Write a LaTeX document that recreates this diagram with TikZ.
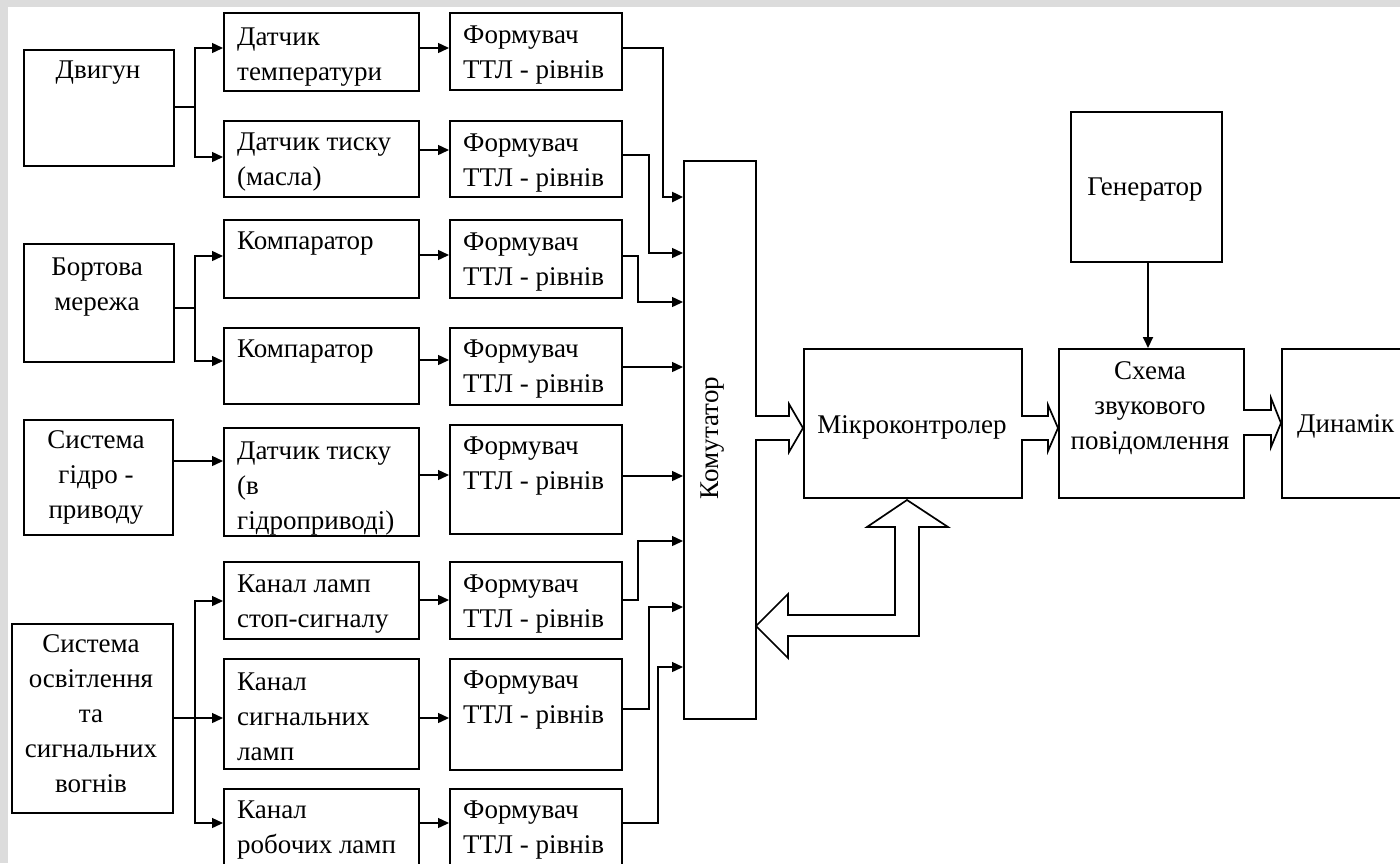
\documentclass[tikz,border=0pt]{standalone}
\usepackage{fontspec}
\setmainfont{Liberation Serif}
\usetikzlibrary{arrows.meta,calc}
\definecolor{framegray}{RGB}{220,220,220}

\begin{document}
\begin{tikzpicture}[x=1pt,y=-1pt,
  box/.style={draw, line width=1.5pt, rectangle, inner sep=0pt, anchor=north west},
  % multi-line texts are placed by the baseline of their last line
  txt/.style={font=\fontsize{27}{35}\selectfont, inner sep=0pt, anchor=base west, align=left},
  ctxt/.style={font=\fontsize{27}{35}\selectfont, inner sep=0pt, anchor=base, align=center},
  wire/.style={line width=1.4pt},
  conn/.style={line width=1.4pt, -{Triangle[length=11pt,width=10pt]}},
  hollow/.style={draw, line width=1.7pt, fill=white, line join=miter}
]
% page and frame
\useasboundingbox (0,0) rectangle (1400,863);
\fill[white] (0,0) rectangle (1400,863);
\fill[framegray] (0,0) rectangle (1400,7);
\fill[framegray] (0,0) rectangle (8,863);

% sources
\node[box, minimum width=150pt, minimum height=116pt] (dv) at (23,49) {};
\node[box, minimum width=150pt, minimum height=118pt] (bm) at (23,243) {};
\node[box, minimum width=149pt, minimum height=115pt] (gs) at (23,419) {};
\node[box, minimum width=161pt, minimum height=189pt] (so) at (11,623) {};
\node[ctxt] (dvt) at (98,78) {Двигун};
\node[ctxt] (bmt) at (97,310) {Бортова\\мережа};
\node[ctxt] (gst) at (96,518) {Система\\гідро -\\приводу};
\node[ctxt] (sot) at (91,792) {Система\\освітлення\\та\\сигнальних\\вогнів};

% sensors and channels
\node[box, minimum width=195pt, minimum height=78pt] (d1) at (223,12) {};
\node[box, minimum width=195pt, minimum height=76pt] (d2) at (223,120) {};
\node[box, minimum width=195pt, minimum height=78pt] (k1) at (223,219) {};
\node[box, minimum width=195pt, minimum height=76pt] (k2) at (223,327) {};
\node[box, minimum width=195pt, minimum height=108pt] (d3) at (223,427) {};
\node[box, minimum width=195pt, minimum height=77pt] (c1) at (223,561) {};
\node[box, minimum width=195pt, minimum height=110pt] (c2) at (223,658) {};
\node[box, minimum width=195pt, minimum height=90pt] (c3) at (223,788) {};
\node[txt] (d1t) at (237,80) {Датчик\\температури};
\node[txt] (d2t) at (237,185) {Датчик тиску\\(масла)};
\node[txt] (k1t) at (237,249) {Компаратор};
\node[txt] (k2t) at (237,357) {Компаратор};
\node[txt] (d3t) at (237,529) {Датчик тиску\\(в\\гідроприводі)};
\node[txt] (c1t) at (237,627) {Канал ламп\\стоп-сигналу};
\node[txt] (c2t) at (237,760) {Канал\\сигнальних\\ламп};
\node[txt] (c3t) at (237,853) {Канал\\робочих ламп};

% level shapers
\foreach \n/\top/\h/\base in {1/12/77/78, 2/120/76/186, 3/219/78/285, 4/327/77/392,
                               5/424/109/489, 6/561/77/627, 7/658/111/723, 8/788/90/853} {
  \node[box, minimum width=172pt, minimum height=\h pt] (f\n) at (449,\top) {};
  \node[txt] (f\n t) at (463,\base) {Формувач\\ТТЛ - рівнів};
}

% switch, controller and output chain
\node[box, minimum width=72pt, minimum height=558pt] (kom) at (683,160) {};
\node[font=\fontsize{27}{35}\selectfont, inner sep=0pt, rotate=90] (komt) at (713,438) {Комутатор};
\node[box, minimum width=218pt, minimum height=149pt] (mc) at (803,348) {};
\node[box, minimum width=185pt, minimum height=149pt] (sch) at (1058,348) {};
\node[box, minimum width=151pt, minimum height=150pt] (gen) at (1070,111) {};
\node[box, minimum width=160pt, minimum height=149pt] (dyn) at (1281,348) {};
\node[ctxt] (mct) at (912,433) {Мікроконтролер};
\node[ctxt] (scht) at (1150,449) {Схема\\звукового\\повідомлення};
\node[ctxt] (gent) at (1145,195) {Генератор};
\node[txt] (dynt) at (1297,432) {Динамік};

% branch points
\coordinate (jdv) at (195,107);
\coordinate (jbm) at (195,308);
\coordinate (jso) at (195,718);

% sources to sensors
\draw[wire] (jdv -| dv.east) -- (jdv);
\draw[conn] (jdv) |- (d1.west |- 0,48);
\draw[conn] (jdv) |- (d2.west |- 0,157);
\draw[wire] (jbm -| bm.east) -- (jbm);
\draw[conn] (jbm) |- (k1.west |- 0,256);
\draw[conn] (jbm) |- (k2.west |- 0,361);
\draw[conn] (gs.east |- 0,461) -- (d3.west |- 0,461);
\draw[wire] (jso -| so.east) -- (jso);
\draw[conn] (jso) |- (c1.west |- 0,601);
\draw[conn] (jso) -- (c2.west |- jso);
\draw[conn] (jso) |- (c3.west |- 0,823);

% sensors to shapers
\draw[conn] (d1.east |- 0,48) -- (f1.west |- 0,48);
\draw[conn] (d2.east |- 0,150) -- (f2.west |- 0,150);
\draw[conn] (k1.east |- 0,255) -- (f3.west |- 0,255);
\draw[conn] (k2.east |- 0,360) -- (f4.west |- 0,360);
\draw[conn] (d3.east |- 0,475) -- (f5.west |- 0,475);
\draw[conn] (c1.east |- 0,600) -- (f6.west |- 0,600);
\draw[conn] (c2.east |- 0,718) -- (f7.west |- 0,718);
\draw[conn] (c3.east |- 0,823) -- (f8.west |- 0,823);

% shapers to switch
\draw[conn, line width=2.4pt] (f1.east |- 0,48) -| (663,197) -- (kom.west |- 0,197);
\draw[conn] (f2.east |- 0,155) -| (649,253) -- (kom.west |- 0,253);
\draw[conn] (f3.east |- 0,256) -| (638,302) -- (kom.west |- 0,302);
\draw[conn] (f4.east |- 0,367) -- (kom.west |- 0,367);
\draw[conn] (f5.east |- 0,476) -- (kom.west |- 0,476);
\draw[conn] (f6.east |- 0,600) -| (638,541) -- (kom.west |- 0,541);
\draw[conn] (f7.east |- 0,709) -| (649,607) -- (kom.west |- 0,607);
\draw[conn] (f8.east |- 0,823) -| (658,667) -- (kom.west |- 0,667);

% generator to sound circuit
\draw[conn, line width=1.8pt] (gen.south -| 1148,0) -- (sch.north -| 1148,0);

% bus arrows
\draw[hollow] (755,416) -- (789,416) -- (789,404) -- (803,428) -- (789,452) -- (789,440) -- (755,440);
\draw[hollow] (1021,416) -- (1048,416) -- (1048,405) -- (1058,428) -- (1048,451) -- (1048,440) -- (1021,440);
\draw[hollow] (1243,410) -- (1271,410) -- (1271,398) -- (1281,423) -- (1271,447) -- (1271,435) -- (1243,435);
\draw[hollow] (756,626) -- (788,594) -- (788,615) -- (895,615) -- (895,527) -- (867,527) -- (907,500)
  -- (948,527) -- (919,527) -- (919,636) -- (788,636) -- (788,658) -- cycle;
\end{tikzpicture}
\end{document}
